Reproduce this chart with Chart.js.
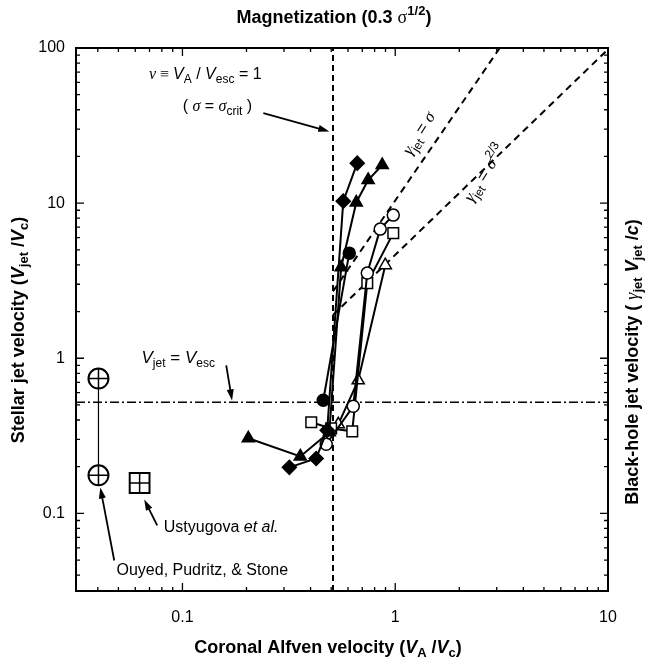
<!DOCTYPE html>
<html>
<head>
<meta charset="utf-8">
<script src="https://cdn.jsdelivr.net/npm/chart.js@4.4.1/dist/chart.umd.min.js"></script>
<style>
  html, body { margin: 0; padding: 0; background: #fff; }
</style>
</head>
<body>
<canvas id="chart" width="651" height="667"></canvas>
<script>
// axis ranges + tick labels (log-log)
const xMin = 0.0316, xMax = 10;
const yMin = 0.0316, yMax = 100;
const xTickValues = [0.1, 1, 10];
const yTickValues = [0.1, 1, 10, 100];

// simulation runs: coronal Alfven velocity (VA/Vc) -> jet velocity (Vjet/Vc)
const filledDiamondVA = [0.318, 0.425, 0.479, 0.570, 0.663];
const filledDiamondJet = [0.198, 0.226, 0.343, 10.3, 18.1];

const filledTriangleVA = [0.204, 0.358, 0.490, 0.557, 0.656, 0.746, 0.869];
const filledTriangleJet = [0.305, 0.233, 0.333, 3.86, 10.1, 14.1, 17.6];

const filledCircleVA = [0.459, 0.608];
const filledCircleJet = [0.536, 4.76];

const openCircleVA = [0.474, 0.635, 0.739, 0.850, 0.979];
const openCircleJet = [0.279, 0.490, 3.54, 6.80, 8.37];

const openSquareVA = [0.403, 0.500, 0.628, 0.739, 0.979];
const openSquareJet = [0.387, 0.353, 0.338, 3.05, 6.41];

const openTriangleVA = [0.540, 0.670, 0.898];
const openTriangleJet = [0.375, 0.721, 3.98];

// other groups
const ouyedVA = [0.0403, 0.0403];
const ouyedJet = [0.74, 0.176];
const ustyugovaVA = [0.0629];
const ustyugovaJet = [0.157];

// reference lines
const nuOneVA = 0.51;          // nu = VA / Vesc = 1
const vescJet = 0.52;          // Vjet = Vesc
const gammaSigmaVA = [0.51, 3.1];
const gammaSigmaJet = [2.7, 100];
const gammaSigma23VA = [0.51, 10];
const gammaSigma23Jet = [1.9, 98];

const SANS = '"Liberation Sans", Arial, Helvetica, sans-serif';
const SERIF = '"Liberation Serif", "DejaVu Serif", serif';

function pts(xs, ys) {
  return xs.map((v, i) => ({ x: v, y: ys[i] }));
}

function series(xs, ys, style, filled, radius) {
  return {
    data: pts(xs, ys),
    showLine: true,
    borderColor: '#000',
    borderWidth: 2,
    pointStyle: style,
    pointRadius: radius,
    pointBackgroundColor: filled ? '#000' : '#fff',
    pointBorderColor: '#000',
    pointBorderWidth: 1.5
  };
}

function refLine(xs, ys, dash, width) {
  return {
    data: pts(xs, ys),
    showLine: true,
    borderColor: '#000',
    borderWidth: width,
    borderDash: dash,
    pointRadius: 0,
    order: 10
  };
}

// text with sub/superscripts
const R = (t, o) => Object.assign({ t: t }, o || {});

function runFont(r, base, bold) {
  const size = r.s ? Math.round(base * 0.72) : base;
  const b = (bold && !r.serif) || r.b ? 'bold ' : '';
  return (r.i ? 'italic ' : '') + b + size + 'px ' + (r.serif ? SERIF : SANS);
}

function drawRich(ctx, runs, px, py, base, align, angle, bold) {
  ctx.save();
  ctx.translate(px, py);
  if (angle) ctx.rotate(angle * Math.PI / 180);
  let total = 0;
  runs.forEach(r => {
    ctx.font = runFont(r, base, bold);
    r.w = ctx.measureText(r.t).width;
    total += r.w;
  });
  let cx = align === 'center' ? -total / 2 : (align === 'right' ? -total : 0);
  ctx.textBaseline = 'middle';
  ctx.fillStyle = '#000';
  runs.forEach(r => {
    ctx.font = runFont(r, base, bold);
    const dy = r.s === 'sub' ? base * 0.32 : (r.s === 'sup' ? -base * 0.38 : 0);
    ctx.fillText(r.t, cx, dy);
    cx += r.w;
  });
  ctx.restore();
}

function arrow(ctx, x0, y0, x1, y1) {
  const ang = Math.atan2(y1 - y0, x1 - x0);
  const hl = 11, hw = 3.5;
  ctx.beginPath();
  ctx.moveTo(x0, y0);
  ctx.lineTo(x1 - hl * 0.8 * Math.cos(ang), y1 - hl * 0.8 * Math.sin(ang));
  ctx.lineWidth = 1.8;
  ctx.stroke();
  ctx.beginPath();
  ctx.moveTo(x1, y1);
  ctx.lineTo(x1 - hl * Math.cos(ang) + hw * Math.sin(ang), y1 - hl * Math.sin(ang) - hw * Math.cos(ang));
  ctx.lineTo(x1 - hl * Math.cos(ang) - hw * Math.sin(ang), y1 - hl * Math.sin(ang) + hw * Math.cos(ang));
  ctx.closePath();
  ctx.fill();
}

const frameAndNotes = {
  id: 'frameAndNotes',
  afterDatasetsDraw(chart) {
    const { ctx, chartArea: a, scales: { x, y } } = chart;
    const X = v => x.getPixelForValue(v);
    const Y = v => y.getPixelForValue(v);
    ctx.save();
    ctx.strokeStyle = '#000';
    ctx.fillStyle = '#000';

    // frame + inward ticks on all four sides
    ctx.lineWidth = 2;
    ctx.strokeRect(a.left, a.top, a.right - a.left, a.bottom - a.top);
    ctx.lineWidth = 1.3;
    ctx.beginPath();
    for (let e = -2; e <= 2; e++) {
      for (let k = 1; k <= 9; k++) {
        const v = k * Math.pow(10, e);
        const len = k === 1 ? 8 : 4;
        if (v >= xMin && v <= xMax * 1.0001) {
          const px = X(v);
          ctx.moveTo(px, a.bottom); ctx.lineTo(px, a.bottom - len);
          ctx.moveTo(px, a.top); ctx.lineTo(px, a.top + len);
        }
        if (v >= yMin && v <= yMax * 1.0001) {
          const py = Y(v);
          ctx.moveTo(a.left, py); ctx.lineTo(a.left + len, py);
          ctx.moveTo(a.right, py); ctx.lineTo(a.right - len, py);
        }
      }
    }
    ctx.stroke();

    // annotations inside the plot
    drawRich(ctx, [R('ν', { serif: true, i: true }), R(' ≡ ', { serif: true }), R('V', { i: true }), R('A', { s: 'sub' }),
      R(' / '), R('V', { i: true }), R('esc', { s: 'sub' }), R(' = 1')], X(0.128), Y(67), 16, 'center');
    drawRich(ctx, [R('( '), R('σ', { serif: true, i: true }), R(' = '), R('σ', { serif: true, i: true }), R('crit', { s: 'sub' }), R(' )')],
      X(0.146), Y(42), 16, 'center');
    arrow(ctx, X(0.240), Y(38.1), X(0.49), Y(29));

    drawRich(ctx, [R('V', { i: true }), R('jet', { s: 'sub' }), R(' = '), R('V', { i: true }), R('esc', { s: 'sub' })],
      X(0.0955), Y(1.0), 17, 'center');
    arrow(ctx, X(0.1606), Y(0.90), X(0.171), Y(0.535));

    drawRich(ctx, [R('γ', { serif: true, i: true }), R('jet', { s: 'sub' }), R(' = '), R('σ', { serif: true, i: true })],
      X(1.30), Y(28), 17, 'center', -58);
    drawRich(ctx, [R('γ', { serif: true, i: true }), R('jet', { s: 'sub' }), R(' = '), R('σ', { serif: true, i: true }), R('2/3', { s: 'sup' })],
      X(2.65), Y(15.5), 17, 'center', -58);

    drawRich(ctx, [R('Ustyugova '), R('et al.', { i: true })], X(0.152), Y(0.0812), 16, 'center');
    arrow(ctx, X(0.0761), Y(0.0837), X(0.0661), Y(0.123));
    drawRich(ctx, [R('Ouyed, Pudritz, & Stone')], X(0.124), Y(0.0429), 16, 'center');
    arrow(ctx, X(0.0478), Y(0.0497), X(0.0411), Y(0.147));

    // titles
    drawRich(ctx, [R('Magnetization (0.3 '), R('σ', { serif: true }), R('1/2', { s: 'sup' }), R(')')],
      334, 18, 18, 'center', 0, true);
    drawRich(ctx, [R('Coronal Alfven velocity ('), R('V', { i: true }), R('A', { s: 'sub' }), R(' /'), R('V', { i: true }),
      R('c', { s: 'sub' }), R(')')], 328, 648, 18, 'center', 0, true);
    drawRich(ctx, [R('Stellar jet velocity ('), R('V', { i: true }), R('jet', { s: 'sub' }), R(' /'), R('V', { i: true }),
      R('c', { s: 'sub' }), R(')')], 19, 330, 18, 'center', -90, true);
    drawRich(ctx, [R('Black-hole jet velocity ( '), R('γ', { serif: true, i: true }), R('jet', { s: 'sub' }), R(' '), R('V', { i: true }),
      R('jet', { s: 'sub' }), R(' /'), R('c', { i: true }), R(')')], 633, 362, 18, 'center', -90, true);
    ctx.restore();
  }
};

const datasets = [
  series(filledDiamondVA, filledDiamondJet, 'rectRot', true, 7),
  series(filledTriangleVA, filledTriangleJet, 'triangle', true, 7),
  series(filledCircleVA, filledCircleJet, 'circle', true, 6),
  series(openCircleVA, openCircleJet, 'circle', false, 6),
  series(openSquareVA, openSquareJet, 'rect', false, 7.5),
  series(openTriangleVA, openTriangleJet, 'triangle', false, 7),
  // Ouyed et al.: circle with cross, joined by thin line
  { data: pts(ouyedVA, ouyedJet), showLine: false, pointStyle: 'cross', pointRadius: 10,
    pointBorderColor: '#000', pointBorderWidth: 1.5 },
  { data: pts(ouyedVA, ouyedJet), showLine: true, borderColor: '#000', borderWidth: 1.2,
    pointStyle: 'circle', pointRadius: 10, pointBackgroundColor: '#fff', pointBorderColor: '#000', pointBorderWidth: 2 },
  // Ustyugova et al.: square with cross
  { data: pts(ustyugovaVA, ustyugovaJet), pointStyle: 'cross', pointRadius: 10,
    pointBorderColor: '#000', pointBorderWidth: 1.5 },
  { data: pts(ustyugovaVA, ustyugovaJet), pointStyle: 'rect', pointRadius: 14,
    pointBackgroundColor: '#fff', pointBorderColor: '#000', pointBorderWidth: 2 },
  refLine([nuOneVA, nuOneVA], [yMin, yMax], [6, 4], 2),
  refLine([xMin, xMax], [vescJet, vescJet], [9, 3, 2, 3], 1.6),
  refLine(gammaSigmaVA, gammaSigmaJet, [7, 5], 2),
  refLine(gammaSigma23VA, gammaSigma23Jet, [7, 5], 2)
];

new Chart(document.getElementById('chart'), {
  type: 'scatter',
  data: { datasets: datasets },
  options: {
    responsive: false,
    animation: false,
    events: [],
    layout: { padding: { top: 48, right: 43, left: 0, bottom: 0 } },
    plugins: { legend: { display: false }, tooltip: { enabled: false } },
    scales: {
      x: {
        type: 'logarithmic', min: xMin, max: xMax, position: 'bottom',
        afterBuildTicks: s => { s.ticks = xTickValues.map(v => ({ value: v })); },
        afterFit: s => { s.height = 76; },
        grid: { display: false, drawTicks: false },
        border: { display: false },
        ticks: { color: '#000', font: { family: SANS, size: 16 }, padding: 17, maxRotation: 0,
          autoSkip: false, callback: v => String(v) }
      },
      y: {
        type: 'logarithmic', min: yMin, max: yMax, position: 'left',
        afterBuildTicks: s => { s.ticks = yTickValues.map(v => ({ value: v })); },
        afterFit: s => { s.width = 76; },
        grid: { display: false, drawTicks: false },
        border: { display: false },
        ticks: { color: '#000', font: { family: SANS, size: 16 }, padding: 11,
          autoSkip: false, callback: v => String(v) }
      }
    }
  },
  plugins: [frameAndNotes]
});
</script>
</body>
</html>
